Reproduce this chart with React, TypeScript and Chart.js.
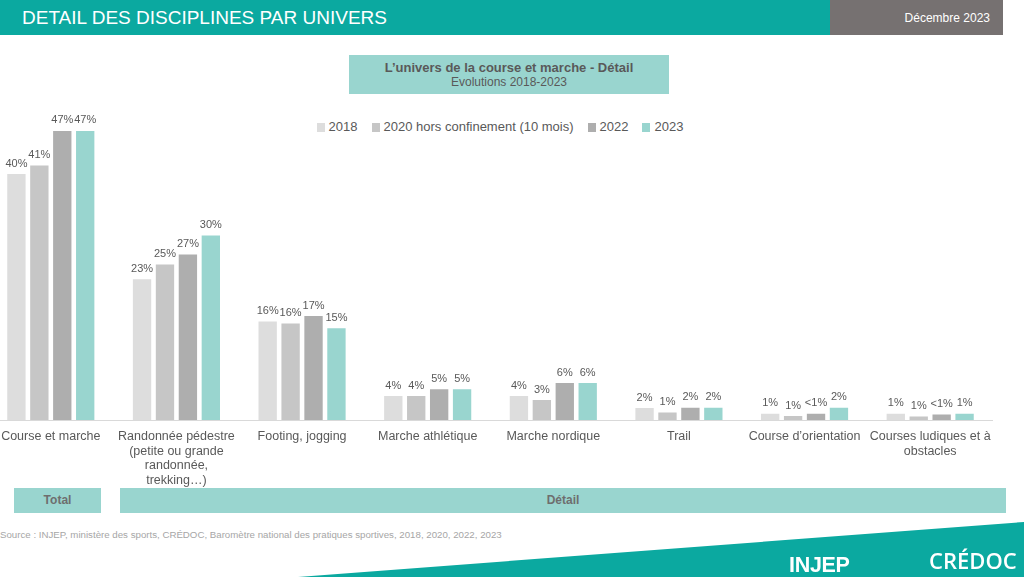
import React, { useEffect, useRef } from "react";
import { Chart, registerables } from "chart.js";

Chart.register(...registerables);

const categories: string[][] = [
  ["Course et marche"],
  ["Randonnée pédestre", "(petite ou grande", "randonnée,", "trekking…)"],
  ["Footing, jogging"],
  ["Marche athlétique"],
  ["Marche nordique"],
  ["Trail"],
  ["Course d’orientation"],
  ["Courses ludiques et à", "obstacles"],
];

const seriesNames = ["2018", "2020 hors confinement (10 mois)", "2022", "2023"];
const seriesColors = ["#DDDDDD", "#C6C6C6", "#AEAEAE", "#99D5CF"];

const values2018 = [40, 22.9, 16, 3.9, 3.9, 1.95, 1.0, 1.0];
const values2020 = [41.4, 25.3, 15.7, 3.9, 3.25, 1.2, 0.65, 0.55];
const values2022 = [47, 26.9, 16.9, 5, 6, 2, 1.0, 0.9];
const values2023 = [47, 30, 14.9, 5, 6, 2, 2, 1];

const labels2018 = ["40%", "23%", "16%", "4%", "4%", "2%", "1%", "1%"];
const labels2020 = ["41%", "25%", "16%", "4%", "3%", "1%", "1%", "1%"];
const labels2022 = ["47%", "27%", "17%", "5%", "6%", "2%", "<1%", "<1%"];
const labels2023 = ["47%", "30%", "15%", "5%", "6%", "2%", "2%", "1%"];

const FONT = "'Liberation Sans', Arial, sans-serif";

const dataLabelPlugin = {
  id: "dataLabelPlugin",
  afterDatasetsDraw(chart: any) {
    const ctx = chart.ctx;
    const allLabels = [labels2018, labels2020, labels2022, labels2023];
    ctx.save();
    ctx.font = `11px ${FONT}`;
    ctx.fillStyle = "#595959";
    ctx.textAlign = "center";
    ctx.textBaseline = "bottom";
    chart.data.datasets.forEach((_ds: any, di: number) => {
      const meta = chart.getDatasetMeta(di);
      meta.data.forEach((el: any, i: number) => {
        ctx.fillText(allLabels[di][i], el.x, el.y - 5);
      });
    });
    ctx.restore();
  },
};

export default function App() {
  const canvasRef = useRef<HTMLCanvasElement | null>(null);

  useEffect(() => {
    if (!canvasRef.current) return;
    const seriesValues = [values2018, values2020, values2022, values2023];
    const chart = new Chart(canvasRef.current, {
      type: "bar",
      data: {
        labels: categories,
        datasets: seriesNames.map((name, i) => ({
          label: name,
          data: seriesValues[i],
          backgroundColor: seriesColors[i],
          borderWidth: 0,
          barPercentage: 0.8,
          categoryPercentage: 0.73,
        })),
      },
      options: {
        animation: false,
        responsive: false,
        devicePixelRatio: 1,
        layout: { padding: { top: 12.5, left: 0, right: 0, bottom: 0 } },
        plugins: {
          legend: { display: false },
          tooltip: { enabled: false },
          title: { display: false },
        },
        scales: {
          x: {
            grid: { display: false, drawTicks: false },
            border: { display: true, color: "#D9D9D9", width: 1 },
            ticks: {
              color: "#595959",
              font: { family: FONT, size: 12.5, lineHeight: 1.18 },
              padding: 9,
              maxRotation: 0,
              autoSkip: false,
            },
            afterFit: (scale: any) => {
              scale.height = 80;
              scale.paddingLeft = 0;
              scale.paddingRight = 0;
            },
          },
          y: {
            display: false,
            min: 0,
            max: 50,
            grid: { display: false },
          },
        },
      },
      plugins: [dataLabelPlugin],
    });
    return () => chart.destroy();
  }, []);

  const boxText: React.CSSProperties = {
    position: "absolute",
    top: 488,
    height: 25,
    lineHeight: "25px",
    background: "#99D5CF",
    color: "#6E6E6E",
    fontSize: 12,
    fontWeight: "bold",
    textAlign: "center",
  };

  return (
    <div
      style={{
        position: "absolute",
        left: 0,
        top: 0,
        width: 1024,
        height: 577,
        overflow: "hidden",
        background: "#FFFFFF",
        fontFamily: FONT,
      }}
    >
      {/* header */}
      <div style={{ position: "absolute", left: 0, top: 0, width: 830, height: 35, background: "#0BA9A0" }} />
      <div style={{ position: "absolute", left: 830, top: 0, width: 173, height: 35, background: "#767171" }} />
      <div
        style={{
          position: "absolute",
          left: 22,
          top: 0,
          height: 35,
          lineHeight: "36px",
          color: "#FFFFFF",
          fontSize: 19,
        }}
      >
        DETAIL DES DISCIPLINES PAR UNIVERS
      </div>
      <div
        style={{
          position: "absolute",
          left: 830,
          top: 0,
          width: 160,
          height: 35,
          lineHeight: "36px",
          color: "#FFFFFF",
          fontSize: 12,
          textAlign: "right",
        }}
      >
        Décembre 2023
      </div>

      {/* title box */}
      <div
        style={{
          position: "absolute",
          left: 349,
          top: 55,
          width: 320,
          height: 39,
          background: "#99D5CF",
          color: "#595959",
          textAlign: "center",
        }}
      >
        <div style={{ fontSize: 13, fontWeight: "bold", marginTop: 5, lineHeight: "15px" }}>
          L’univers de la course et marche - Détail
        </div>
        <div style={{ fontSize: 12, lineHeight: "15px" }}>Evolutions 2018-2023</div>
      </div>

      {/* legend */}
      <div
        style={{
          position: "absolute",
          left: 0,
          top: 119,
          width: 1000,
          display: "flex",
          justifyContent: "center",
          color: "#595959",
          fontSize: 13,
          lineHeight: "16px",
        }}
      >
        {seriesNames.map((name, i) => (
          <div key={name} style={{ display: "flex", alignItems: "center", marginLeft: i === 0 ? 0 : 14 }}>
            <span
              style={{
                display: "inline-block",
                width: 8,
                height: 9,
                background: seriesColors[i],
                marginRight: 4,
              }}
            />
            <span>{name}</span>
          </div>
        ))}
      </div>

      {/* chart */}
      <canvas
        ref={canvasRef}
        width={1005}
        height={400}
        style={{ position: "absolute", left: -12, top: 100, width: 1005, height: 400 }}
      />

      {/* bottom boxes */}
      <div style={{ ...boxText, left: 14, width: 87 }}>Total</div>
      <div style={{ ...boxText, left: 120, width: 886 }}>Détail</div>

      {/* source */}
      <div style={{ position: "absolute", left: 0, top: 529, fontSize: 9.7, color: "#A6A6A6" }}>
        Source : INJEP, ministère des sports, CRÉDOC, Baromètre national des pratiques sportives, 2018, 2020, 2022, 2023
      </div>

      {/* bottom decoration */}
      <svg style={{ position: "absolute", left: 0, top: 0 }} width={1024} height={577}>
        <polygon points="298,577 1024,522 1024,577" fill="#0BA9A0" />
      </svg>
      <div
        style={{
          position: "absolute",
          left: 789,
          top: 554,
          fontSize: 21.5,
          fontWeight: "bold",
          color: "#FFFFFF",
          lineHeight: "22px",
          letterSpacing: -0.3,
        }}
      >
        INJEP
      </div>
      <div
        style={{
          position: "absolute",
          left: 929,
          top: 549,
          fontSize: 22,
          fontWeight: 600,
          fontFamily: "'Open Sans', sans-serif",
          color: "#FFFFFF",
          lineHeight: "22px",
        }}
      >
        CRÉDOC
      </div>
    </div>
  );
}
